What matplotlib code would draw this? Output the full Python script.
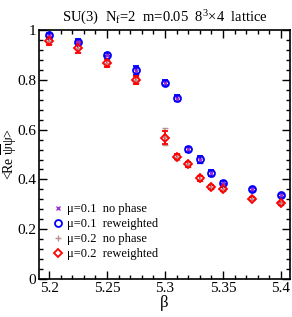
import matplotlib
matplotlib.use("Agg")
import matplotlib.pyplot as plt
from matplotlib.lines import Line2D
from matplotlib.ticker import MultipleLocator

plt.rcParams['font.family'] = ['Liberation Serif', 'DejaVu Serif']
plt.rcParams['mathtext.fontset'] = 'custom'
plt.rcParams['mathtext.rm'] = 'Liberation Serif'
plt.rcParams['mathtext.it'] = 'Liberation Serif'

beta = [5.2, 5.225, 5.25, 5.275, 5.3, 5.31, 5.32, 5.33, 5.34, 5.35, 5.375, 5.4]

mu01_nophase = [0.978, 0.951, 0.901, 0.837, 0.787, 0.725, 0.521, 0.480, 0.424, 0.387, 0.360, 0.337]
mu01_nophase_err = [0.008, 0.008, 0.007, 0.012, 0.008, 0.010, 0.008, 0.012, 0.010, 0.006, 0.005, 0.005]
mu01_rew = [0.980, 0.953, 0.902, 0.839, 0.788, 0.726, 0.522, 0.481, 0.424, 0.387, 0.360, 0.337]
mu01_rew_err = [0.010, 0.010, 0.008, 0.018, 0.010, 0.012, 0.010, 0.015, 0.012, 0.007, 0.006, 0.006]

mu02_nophase = [0.955, 0.928, 0.867, 0.798, 0.572, 0.490, 0.460, 0.403, 0.368, 0.360, 0.323, 0.304]
mu02_nophase_err = [0.010, 0.015, 0.012, 0.012, 0.034, 0.012, 0.012, 0.010, 0.008, 0.008, 0.006, 0.006]
mu02_rew = [0.957, 0.930, 0.869, 0.799, 0.568, 0.491, 0.461, 0.404, 0.368, 0.360, 0.323, 0.304]
mu02_rew_err = [0.015, 0.022, 0.016, 0.015, 0.025, 0.010, 0.010, 0.010, 0.008, 0.008, 0.006, 0.006]

labels = ['μ=0.1  no phase', 'μ=0.1  reweighted', 'μ=0.2  no phase', 'μ=0.2  reweighted']

fig = plt.figure(figsize=(2.92, 3.17), dpi=100)
ax = fig.add_axes([0.134, 0.120, 0.859, 0.785])

styles = [
    dict(marker='x', color='#9b30d0', mfc='none', ms=3.5, mew=1.0),
    dict(marker='o', color='#0000ff', mfc='none', ms=5, mew=1.3),
    dict(marker='+', color='#bc8f8f', mfc='none', ms=4, mew=1.0),
    dict(marker='D', color='#ff0000', mfc='none', ms=4, mew=1.3),
]
series = [(mu01_nophase, mu01_nophase_err), (mu01_rew, mu01_rew_err),
          (mu02_nophase, mu02_nophase_err), (mu02_rew, mu02_rew_err)]

handles = []
for (vals, errs), st, lab in zip(series, styles, labels):
    ax.errorbar(beta, vals, yerr=errs, fmt=st['marker'], color=st['color'], mfc=st['mfc'],
                ms=st['ms'], mew=st['mew'], capsize=2.5, elinewidth=1.1)
    handles.append(Line2D([], [], linestyle='none', marker=st['marker'], color=st['color'],
                          mfc=st['mfc'], ms=st['ms'], mew=st['mew'], label=lab))

ax.set_xlim(5.1914, 5.4078)
ax.set_ylim(0, 1)
ax.xaxis.set_minor_locator(MultipleLocator(0.01))
ax.yaxis.set_minor_locator(MultipleLocator(0.04))
ax.set_xticks([5.2, 5.25, 5.3, 5.35, 5.4])
ax.set_xticklabels(['5.2', '5.25', '5.3', '5.35', '5.4'])
ax.set_yticks([0, 0.2, 0.4, 0.6, 0.8, 1.0])
ax.set_yticklabels(['0', '0.2', '0.4', '0.6', '0.8', '1'])
ax.tick_params(which='both', direction='in', top=True, right=True, labelsize=11, width=1.0)
ax.tick_params(which='major', length=6, pad=2)
ax.tick_params(which='minor', length=3)
for s in ax.spines.values():
    s.set_linewidth(1.2)

ax.set_xlabel('β', fontsize=12, labelpad=0)
ax.set_ylabel(r'<Re $\overline{\mathrm{\psi}}\mathrm{\psi}$>', fontsize=10)
ax.yaxis.set_label_coords(-0.078, 0.5)
ax.set_title(r'SU(3)  N$_{\rm f}$=2  m=0.05  8$^3$$\times$4  lattice', fontsize=10.5, pad=6)

ax.legend(handles=handles, loc='lower left', bbox_to_anchor=(0.02, 0.04), frameon=False,
          fontsize=9, handlelength=0.8, handletextpad=0.3, labelspacing=0.25, borderpad=0.2)

fig.savefig('out.png', dpi=100)
